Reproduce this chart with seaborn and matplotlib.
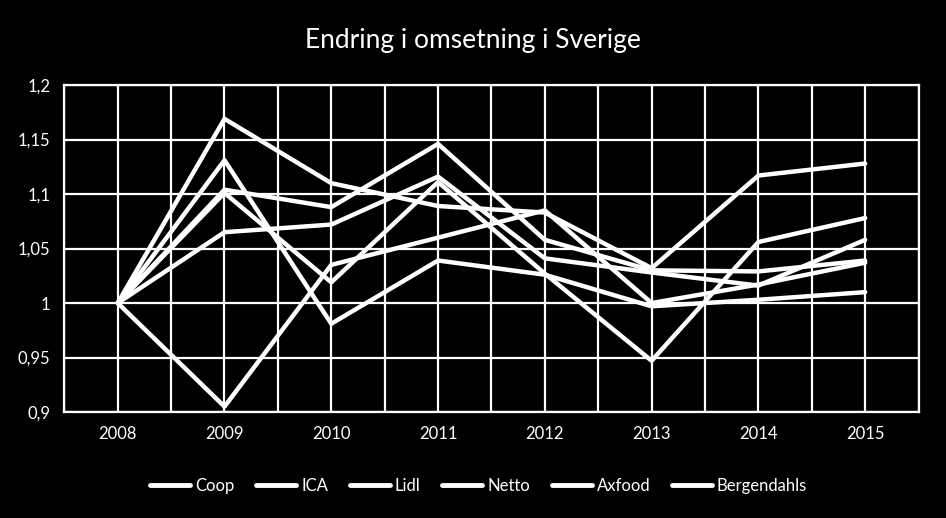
import matplotlib
matplotlib.use("Agg")
import matplotlib.pyplot as plt
import numpy as np
import pandas as pd
import seaborn as sns
from matplotlib.ticker import FuncFormatter, MultipleLocator

YEARS = [2008, 2009, 2010, 2011, 2012, 2013, 2014, 2015]
CHAINS = ["Coop", "ICA", "Lidl", "Netto", "Axfood", "Bergendahls"]

coop = [1.0, 1.169, 1.110, 1.089, 1.083, 1.032, 1.117, 1.128]
ica = [1.0, 1.131, 0.981, 1.039, 1.026, 0.997, 1.003, 1.010]
lidl = [1.0, 1.104, 1.088, 1.146, 1.058, 1.030, 1.029, 1.039]
netto = [1.0, 1.101, 1.019, 1.111, 1.027, 0.947, 1.056, 1.078]
axfood = [1.0, 1.065, 1.072, 1.116, 1.041, 1.028, 1.016, 1.058]
bergendahls = [1.0, 0.905, 1.035, 1.060, 1.085, 1.000, 1.017, 1.037]

series = [coop, ica, lidl, netto, axfood, bergendahls]
df = pd.DataFrame(
    [(y, name, v) for name, vals in zip(CHAINS, series) for y, v in zip(YEARS, vals)],
    columns=["year", "chain", "value"],
)

sns.set_theme(style="dark")
plt.rcParams["font.family"] = ["Lato", "DejaVu Sans"]

fig = plt.figure(figsize=(9.46, 5.18), dpi=100, facecolor="black")
ax = fig.add_axes([0.068, 0.2046, 0.903, 0.6312])
ax.set_facecolor("black")

sns.lineplot(
    data=df, x="year", y="value", hue="chain", hue_order=CHAINS,
    palette=["white"] * 6, linewidth=3.2, sort=False, ax=ax,
)

ax.set_xlim(2007.5, 2015.5)
ax.set_ylim(0.9, 1.2)
ax.set_xticks(YEARS)
ax.xaxis.set_minor_locator(MultipleLocator(0.5))
ax.yaxis.set_major_locator(MultipleLocator(0.05))
ax.yaxis.set_major_formatter(
    FuncFormatter(lambda v, _: f"{v:.2f}".rstrip("0").rstrip(".").replace(".", ","))
)
ax.grid(which="both", color="white", linewidth=1.6)
ax.set_axisbelow(True)
ax.tick_params(which="both", length=0, colors="white", labelsize=12, pad=10)
for side in ax.spines.values():
    side.set_color("white")
    side.set_linewidth(1.6)
ax.set_xlabel("")
ax.set_ylabel("")

fig.suptitle("Endring i omsetning i Sverige", color="white", fontsize=19, y=0.945)

ax.legend(
    loc="upper center", bbox_to_anchor=(0.485, -0.155), ncol=6, frameon=False,
    labelcolor="white", fontsize=12, handlelength=2.4, handletextpad=0.3,
    columnspacing=1.3,
)
for h in ax.get_legend().get_lines():
    h.set_linewidth(3.5)

fig.savefig("out.png", dpi=100, facecolor="black")
